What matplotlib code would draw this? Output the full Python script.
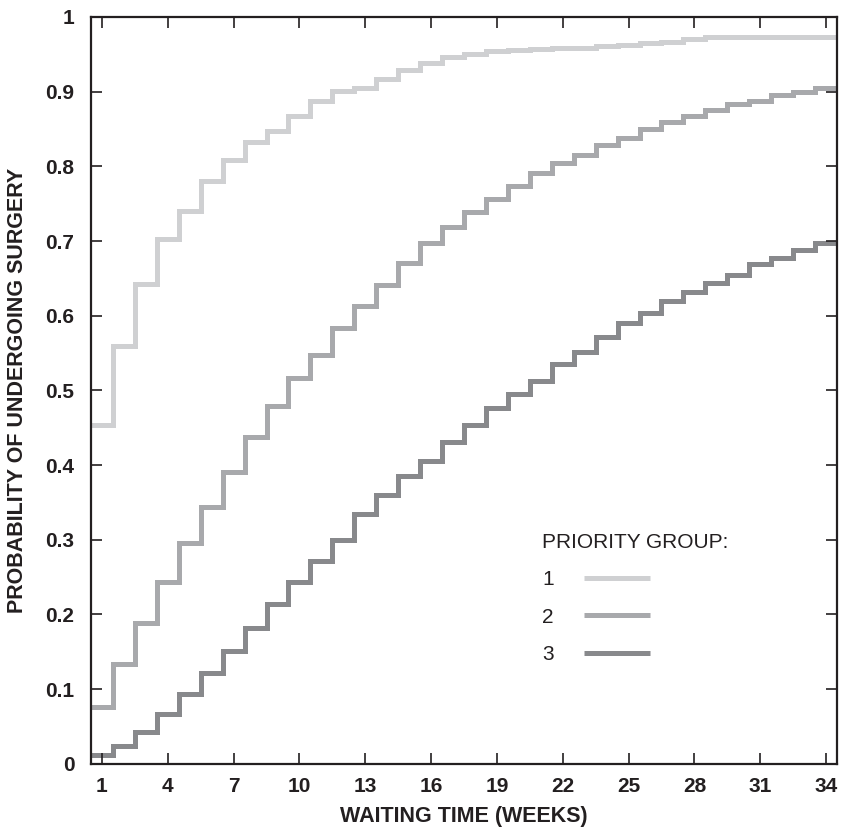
import numpy as np
import matplotlib
matplotlib.use("Agg")
import matplotlib.pyplot as plt
from matplotlib.lines import Line2D

plt.rcParams['font.family'] = ['Liberation Sans', 'DejaVu Sans']

weeks = np.arange(1, 35)

group1 = [0.453, 0.559, 0.643, 0.703, 0.740, 0.780, 0.808, 0.833, 0.847, 0.867,
          0.888, 0.901, 0.905, 0.917, 0.929, 0.939, 0.946, 0.950, 0.955, 0.956,
          0.957, 0.958, 0.959, 0.961, 0.962, 0.965, 0.967, 0.970, 0.973, 0.973,
          0.973, 0.973, 0.973, 0.973]
group2 = [0.076, 0.133, 0.188, 0.244, 0.296, 0.344, 0.391, 0.437, 0.479, 0.516,
          0.548, 0.583, 0.613, 0.641, 0.671, 0.698, 0.719, 0.739, 0.756, 0.774,
          0.791, 0.805, 0.815, 0.829, 0.838, 0.850, 0.859, 0.868, 0.875, 0.883,
          0.888, 0.895, 0.900, 0.905]
group3 = [0.012, 0.024, 0.042, 0.067, 0.093, 0.121, 0.151, 0.182, 0.214, 0.243,
          0.271, 0.300, 0.334, 0.360, 0.385, 0.406, 0.431, 0.453, 0.476, 0.495,
          0.513, 0.535, 0.551, 0.571, 0.590, 0.604, 0.619, 0.632, 0.644, 0.655,
          0.669, 0.677, 0.688, 0.697]

series = [group1, group2, group3]
group_labels = ['1', '2', '3']
colors = ['#cfd0d2', '#a8a9ac', '#88898c']

x_ticks = np.arange(1, 35, 3)
y_ticks = np.round(np.arange(0, 1.01, 0.1), 1)
y_ticklabels = ['0', '0.1', '0.2', '0.3', '0.4', '0.5', '0.6', '0.7', '0.8', '0.9', '1']

text_color = '#231f20'

fig = plt.figure(figsize=(8.43, 8.30), dpi=100)
ax = fig.add_axes([91/843, 1 - 763.7/830, (837-91)/843, (763.7-17)/830])

edges = np.append(weeks - 0.5, weeks[-1] + 0.5)
for vals, col in zip(series, colors):
    sp = ax.stairs(vals, edges, baseline=None, color=col, linewidth=3.6)
    sp.set_joinstyle('miter')
    sp.set_capstyle('butt')

ax.set_xlim(0.5, 34.5)
ax.set_ylim(0, 1)
ax.set_xticks(x_ticks)
ax.set_xticklabels([str(t) for t in x_ticks])
ax.set_yticks(y_ticks)
ax.set_yticklabels(y_ticklabels)

ax.tick_params(direction='in', length=8, width=1.2, top=True, right=True,
               labelsize=15, colors=text_color)
ax.tick_params(axis='x', pad=9.5)
ax.tick_params(axis='y', pad=12)
for lab in ax.get_xticklabels() + ax.get_yticklabels():
    lab.set_fontweight('bold')
for sp_ in ax.spines.values():
    sp_.set_linewidth(1.6)
    sp_.set_color(text_color)

ax.set_xlabel('WAITING TIME (WEEKS)', fontsize=15.5, fontweight='bold',
              color=text_color)
ax.set_ylabel('PROBABILITY OF UNDERGOING SURGERY', fontsize=15.5,
              fontweight='bold', color=text_color)
ax.xaxis.set_label_coords(0.5, -0.057)
ax.yaxis.set_label_coords(-0.085, 0.5)

handles = [Line2D([], [], color=c, linewidth=3.6, solid_capstyle='butt') for c in colors]
leg = ax.legend(handles, group_labels, title='PRIORITY GROUP:', markerfirst=False,
                frameon=False, loc='upper left', bbox_to_anchor=(0.6046, 0.309),
                borderpad=0, borderaxespad=0, handlelength=3.17, handletextpad=1.45,
                labelspacing=0.88, fontsize=15, title_fontsize=15,
                alignment='left')
for t in leg.get_texts():
    t.set_color(text_color)
leg.get_title().set_color(text_color)

fig.savefig('out.png', dpi=100)
